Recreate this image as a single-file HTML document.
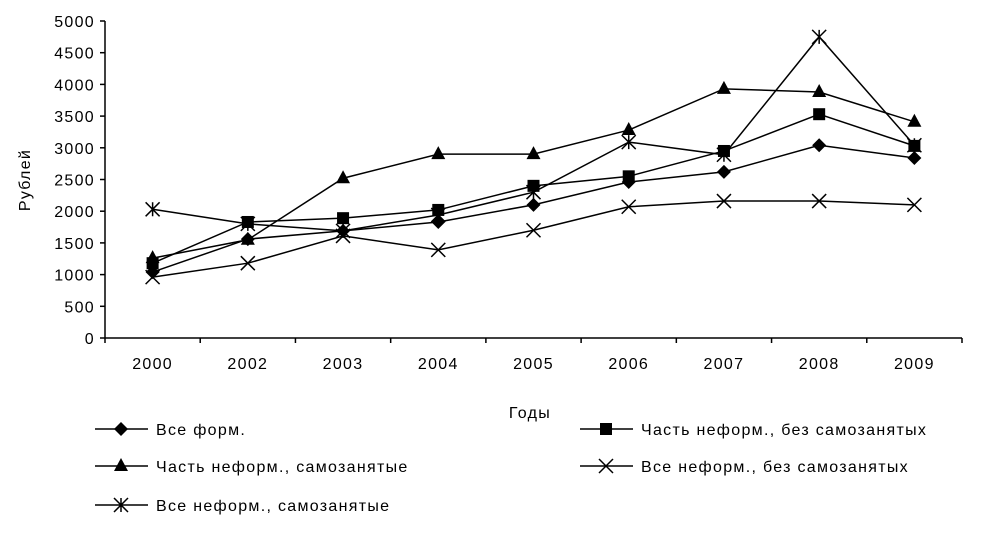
<!DOCTYPE html>
<html><head><meta charset="utf-8"><style>
body{margin:0;background:#fff;}
svg text{font-family:"Liberation Sans",sans-serif;font-size:16px;letter-spacing:1.3px;fill:#000;}
</style></head><body>
<svg id="chart" width="1000" height="536" xmlns="http://www.w3.org/2000/svg"></svg>
<script>
const categories=["2000","2002","2003","2004","2005","2006","2007","2008","2009"];
const seriesNames=["Все форм.","Часть неформ., без самозанятых","Часть неформ., самозанятые","Все неформ., без самозанятых","Все неформ., самозанятые"];
const vseForm=[1040,1560,1690,1830,2100,2460,2620,3040,2840];
const chastBez=[1180,1830,1890,2020,2400,2550,2950,3530,3030];
const chastSam=[1260,1550,2520,2900,2900,3280,3930,3880,3410];
const vseBez=[960,1180,1610,1390,1700,2070,2160,2160,2100];
const vseSam=[2030,1800,1690,1940,2300,3090,2890,4750,3040];
const yTicks=[0,500,1000,1500,2000,2500,3000,3500,4000,4500,5000];
const markers=["diamond","square","triangle","x","star"];
const allSeries=[vseForm,chastBez,chastSam,vseBez,vseSam];

const svg=document.getElementById('chart');
const NS="http://www.w3.org/2000/svg";
const x0=105,x1=962,yTop=21,yBot=338,yMax=5000;
const bw=(x1-x0)/categories.length;
function xs(i){return x0+bw*(i+0.5);}
function ys(v){return yBot-(v/yMax)*(yBot-yTop);}
function el(t,a,p){const e=document.createElementNS(NS,t);for(const k in a)e.setAttribute(k,a[k]);(p||svg).appendChild(e);return e;}

const ax=el('g',{});


el('line',{x1:x0,y1:yTop,x2:x0,y2:yBot,stroke:'#000','stroke-width':1.5},ax);
el('line',{x1:x0,y1:yBot,x2:x1,y2:yBot,stroke:'#000','stroke-width':1.5},ax);
yTicks.forEach(v=>{
  const y=ys(v);
  el('line',{x1:x0-5,y1:y,x2:x0,y2:y,stroke:'#000','stroke-width':1.5},ax);
  const t=el('text',{x:x0-10,y:y+6,'text-anchor':'end'},ax);t.textContent=v;
  
  
});
for(let i=0;i<=categories.length;i++){el('line',{x1:x0+bw*i,y1:yBot,x2:x0+bw*i,y2:yBot+5,stroke:'#000','stroke-width':1.5},ax);}
categories.forEach((c,i)=>{
  const t=el('text',{x:xs(i),y:yBot+31,'text-anchor':'middle'},ax);t.textContent=c;
  
  
});
const yt=el('text',{x:30,y:180,'text-anchor':'middle',transform:'rotate(-90 30 180)'});yt.textContent='Рублей';


const xt=el('text',{x:530,y:418,'text-anchor':'middle'});xt.textContent='Годы';



function marker(type,x,y,g){
  if(type==='diamond')el('polygon',{points:`${x},${y-7} ${x+7},${y} ${x},${y+7} ${x-7},${y}`,fill:'#000'},g);
  else if(type==='square')el('rect',{x:x-6,y:y-6,width:12,height:12,fill:'#000'},g);
  else if(type==='triangle')el('polygon',{points:`${x},${y-8} ${x+7},${y+5} ${x-7},${y+5}`,fill:'#000'},g);
  else if(type==='x'){el('path',{d:`M${x-7} ${y-7}L${x+7} ${y+7}M${x-7} ${y+7}L${x+7} ${y-7}`,stroke:'#000','stroke-width':1.5},g);}
  else {el('path',{d:`M${x-7} ${y-7}L${x+7} ${y+7}M${x-7} ${y+7}L${x+7} ${y-7}M${x} ${y-7}L${x} ${y+7}`,stroke:'#000','stroke-width':1.5},g);}
}
allSeries.forEach((s,k)=>{
  const g=el('g',{});
  
  
  el('polyline',{points:s.map((v,i)=>xs(i)+','+ys(v)).join(' '),fill:'none',stroke:'#000','stroke-width':1.5},g);
  s.forEach((v,i)=>marker(markers[k],xs(i),ys(v),g));
});
const legPos=[[95,429],[580,429],[95,466],[580,466],[95,505]];
seriesNames.forEach((n,k)=>{
  const [lx,ly]=legPos[k];
  const g=el('g',{});
  
  
  el('line',{x1:lx,y1:ly,x2:lx+53,y2:ly,stroke:'#000','stroke-width':1.5},g);
  marker(markers[k],lx+26,ly,g);
  const t=el('text',{x:lx+61,y:ly+6},g);t.textContent=n;
});
</script>
</body></html>
